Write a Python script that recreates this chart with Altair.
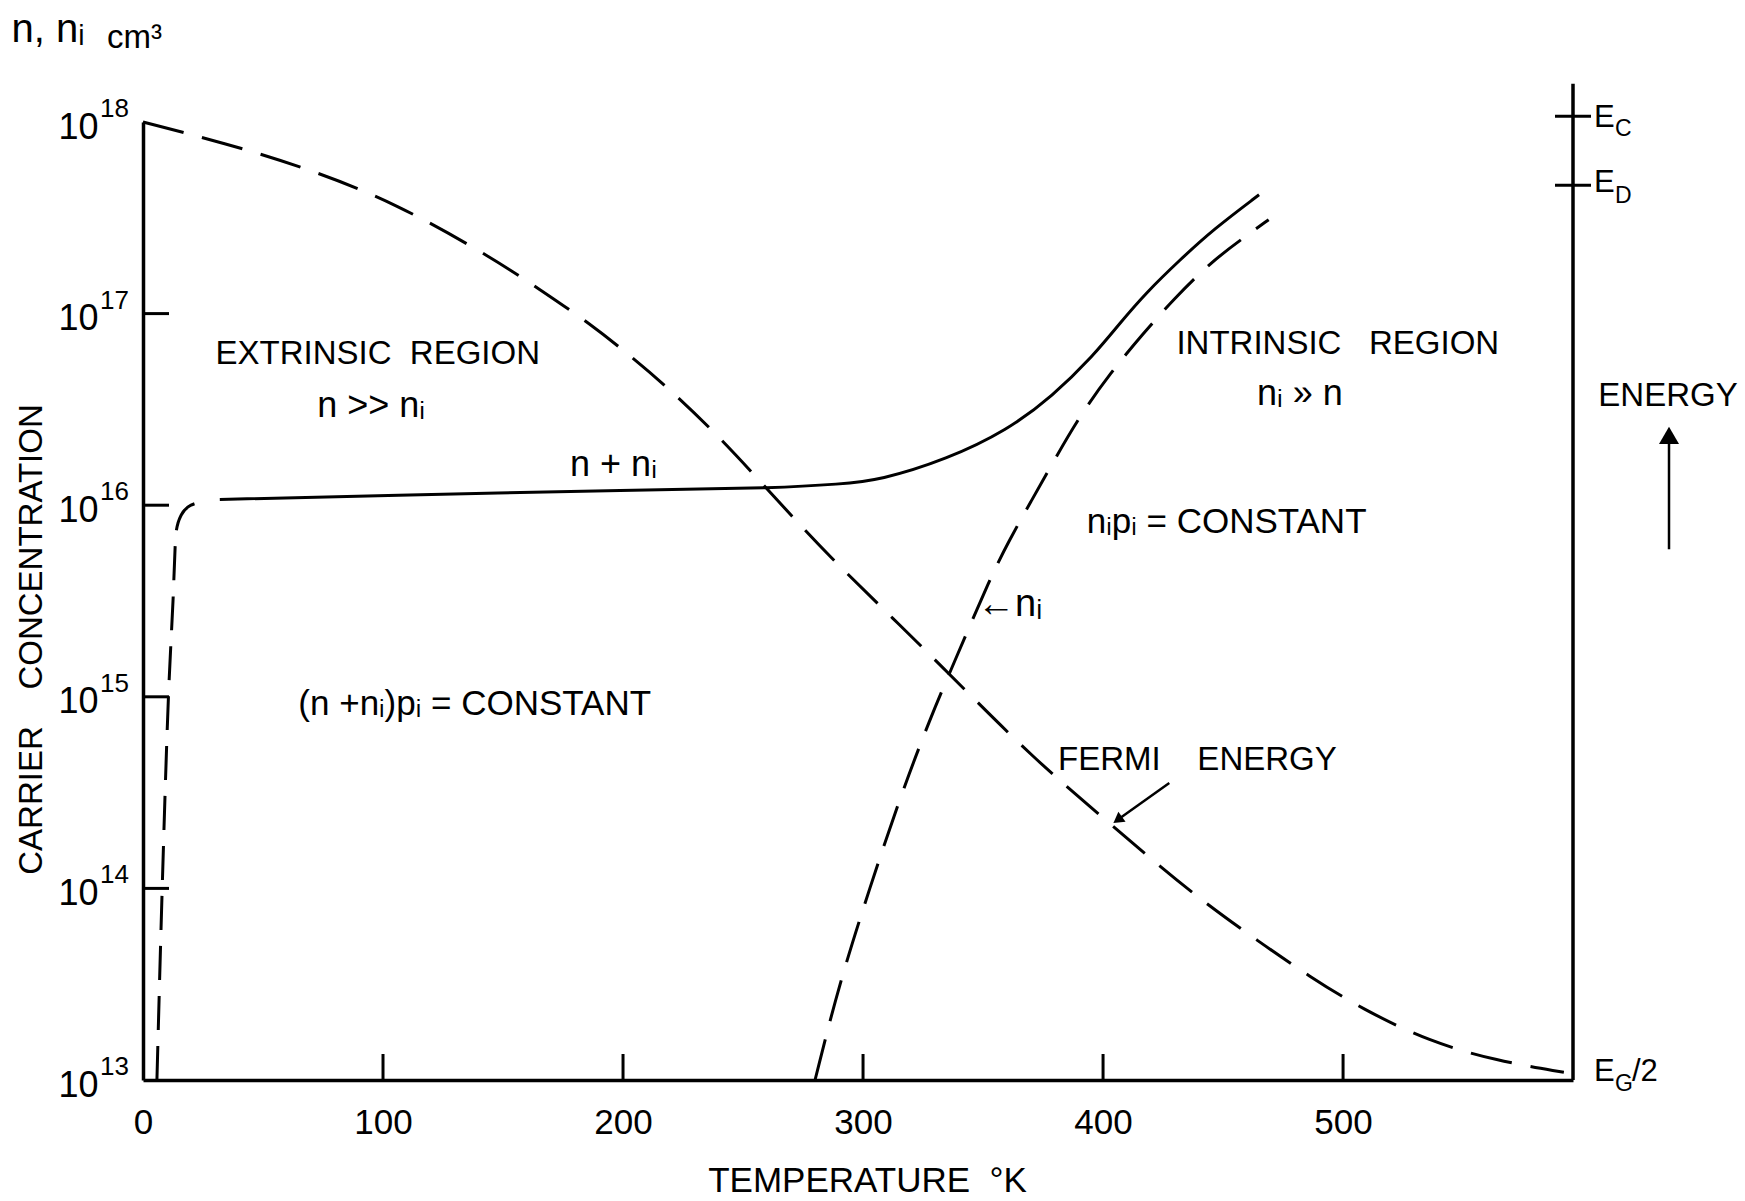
import altair as alt
import pandas as pd

FONT = "Liberation Sans"
INK = "black"

# ---------------- data ----------------
# x: temperature (K); curves given as log10 of carrier concentration (cm^-3)
T_RIGHT = 595.8          # temperature position of the energy axis

fermi_T = [0, 34, 68, 105, 147, 166, 186, 205, 219, 240, 264, 286, 315, 343, 371,
           399, 424, 443, 464, 486, 508, 536, 564, 592]
fermi_log = [18.0, 17.89, 17.76, 17.58, 17.28, 17.12, 16.95, 16.76, 16.61, 16.36, 16.03,
             15.73, 15.38, 15.03, 14.68, 14.38, 14.11, 13.92, 13.73, 13.54, 13.37, 13.20,
             13.10, 13.04]

nsum_T = [32, 100, 207, 265, 290, 307, 335, 360, 379, 396, 407, 418, 432, 446, 465]
nsum_log = [16.03, 16.05, 16.08, 16.09, 16.11, 16.13, 16.24, 16.39, 16.57, 16.78, 16.95,
            17.11, 17.28, 17.44, 17.62]

nlow_T = [5.8, 8.0, 10.6, 12.5, 13.8, 16.0, 20.0, 26.5]
nlow_log = [13.0, 14.0, 15.0, 15.5, 15.86, 15.95, 16.0, 16.02]

ni_T = [280, 290, 303, 315, 328, 338, 353, 361, 370, 379, 390, 403, 417, 429, 445, 459, 469]
ni_log = [13.0, 13.50, 14.01, 14.46, 14.89, 15.18, 15.62, 15.82, 16.02, 16.22, 16.46,
          16.69, 16.90, 17.07, 17.27, 17.40, 17.49]

# axes
x_tick_values = [0, 100, 200, 300, 400, 500]
x_inner_ticks = [100, 200, 300, 400, 500]
y_exponents = [13, 14, 15, 16, 17, 18]
y_inner_ticks = [14, 15, 16, 17]

# energy axis on the right
energy_axis_top_log = 18.20
energy_tick_logs = [18.03, 17.67]
energy_E_logs = [18.02, 17.68, 13.04]
energy_sub_text = ["C", "D", "G"]
energy_sub_logs = [17.963, 17.614, 12.977]
energy_half_logs = [13.04]

# annotations (centre positions)
cap_text = ["EXTRINSIC\u00a0\u00a0REGION", "INTRINSIC\u00a0\u00a0\u00a0REGION",
            "FERMI\u00a0\u00a0\u00a0\u00a0ENERGY", "ENERGY"]
cap_T = [97.8, 497.8, 439.3, 635.4]
cap_log = [16.79, 16.84, 14.67, 16.57]

const_text = ["(n +nᵢ)pᵢ = CONSTANT", "nᵢpᵢ = CONSTANT"]
const_T = [138.2, 451.5]
const_log = [14.96, 15.91]

low_text = ["n >> nᵢ", "n + nᵢ", "nᵢ » n"]
low_T = [95, 196, 482]
low_log = [16.52, 16.21, 16.58]

ni_label_text = ["←nᵢ"]
ni_label_T = [347.5]
ni_label_log = [15.48]

unit_text = ["n, nᵢ", "cm³"]
unit_T = [-54.8, -15.0]
unit_log = [18.48, 18.44]

# arrows
fermi_arrow_T = [427.6, 406.1]
fermi_arrow_log = [14.55, 14.358]
energy_arrow_T = 635.8
energy_arrow_log = [15.77, 16.364]

# ---------------- chart ----------------
xscale = alt.Scale(domain=[0, T_RIGHT], nice=False, zero=False)
yscale = alt.Scale(type="log", domain=[1e13, 1e18], nice=False)

xaxis = alt.Axis(values=x_tick_values, ticks=False, tickSize=0, grid=False,
                 domainColor=INK, domainWidth=3.5,
                 labelFont=FONT, labelFontSize=35, labelColor=INK, labelPadding=25,
                 labelFlush=False, labelOverlap=False,
                 title="TEMPERATURE\u00a0\u00a0°K", titleFont=FONT, titleFontSize=35,
                 titleFontWeight="normal", titleColor=INK, titleX=724, titleY=100,
                 titleAlign="center", titleBaseline="middle")
yaxis = alt.Axis(values=[10.0 ** e for e in y_exponents], labelExpr="'10'",
                 ticks=False, tickSize=0, grid=False,
                 domainColor=INK, domainWidth=3.5,
                 labelFont=FONT, labelFontSize=36, labelColor=INK, labelPadding=45,
                 labelOffset=5, labelFlush=False, labelOverlap=False,
                 title="CARRIER\u00a0\u00a0\u00a0\u00a0CONCENTRATION", titleFont=FONT,
                 titleFontSize=33, titleFontWeight="normal", titleColor=INK,
                 titleAngle=270, titleX=-112, titleY=517,
                 titleAlign="center", titleBaseline="middle")


def X(f="T"):
    return alt.X(f"{f}:Q", scale=xscale, axis=xaxis)


def Y(f="n"):
    return alt.Y(f"{f}:Q", scale=yscale, axis=yaxis)


def pts(Ts, logs, **extra):
    d = {"T": Ts, "n": [10.0 ** v for v in logs]}
    d.update(extra)
    return pd.DataFrame(d)


DASH = [42, 19]

layers = []

# curves
layers.append(alt.Chart(pts(fermi_T, fermi_log)).mark_line(
    color=INK, strokeWidth=3, strokeDash=DASH, interpolate="basis").encode(x=X(), y=Y()))
layers.append(alt.Chart(pts(nsum_T, nsum_log)).mark_line(
    color=INK, strokeWidth=3, interpolate="basis").encode(x=X(), y=Y()))
layers.append(alt.Chart(pts(nlow_T, nlow_log)).mark_line(
    color=INK, strokeWidth=3, strokeDash=[34, 16], interpolate="monotone").encode(x=X(), y=Y()))
layers.append(alt.Chart(pts(ni_T, ni_log)).mark_line(
    color=INK, strokeWidth=3, strokeDash=DASH, interpolate="basis").encode(x=X(), y=Y()))

# inward ticks
layers.append(alt.Chart(pts([0] * len(y_inner_ticks), y_inner_ticks)).mark_tick(
    orient="horizontal", size=26, thickness=3, xOffset=13, color=INK, opacity=1
).encode(x=X(), y=Y()))
layers.append(alt.Chart(pts(x_inner_ticks, [13] * len(x_inner_ticks))).mark_tick(
    orient="vertical", size=26, thickness=3, yOffset=-13, color=INK, opacity=1
).encode(x=X(), y=Y()))

# y-axis exponents
layers.append(alt.Chart(pts([0] * len(y_exponents), y_exponents,
                            label=[str(e) for e in y_exponents])).mark_text(
    font=FONT, fontSize=26, color=INK, align="left", baseline="middle", dx=-43, dy=-13
).encode(x=X(), y=Y(), text="label:N"))

# energy axis
energy_axis_df = pd.DataFrame({"T": [T_RIGHT], "n": [1e13], "n2": [10.0 ** energy_axis_top_log]})
layers.append(alt.Chart(energy_axis_df).mark_rule(color=INK, strokeWidth=3.5).encode(
    x=X(), y=Y(), y2=alt.Y2("n2:Q")))
layers.append(alt.Chart(pts([T_RIGHT] * len(energy_tick_logs), energy_tick_logs)).mark_tick(
    orient="horizontal", size=36, thickness=3, color=INK, opacity=1).encode(x=X(), y=Y()))
layers.append(alt.Chart(pts([T_RIGHT] * 3, energy_E_logs, label=["E", "E", "E"])).mark_text(
    font=FONT, fontSize=31, color=INK, align="left", baseline="middle", dx=21
).encode(x=X(), y=Y(), text="label:N"))
layers.append(alt.Chart(pts([T_RIGHT] * 3, energy_sub_logs, label=energy_sub_text)).mark_text(
    font=FONT, fontSize=23, color=INK, align="left", baseline="middle", dx=42
).encode(x=X(), y=Y(), text="label:N"))
layers.append(alt.Chart(pts([T_RIGHT], energy_half_logs, label=["/2"])).mark_text(
    font=FONT, fontSize=31, color=INK, align="left", baseline="middle", dx=59
).encode(x=X(), y=Y(), text="label:N"))

# annotations
layers.append(alt.Chart(pts(cap_T, cap_log, label=cap_text)).mark_text(
    font=FONT, fontSize=33, color=INK, align="center", baseline="middle"
).encode(x=X(), y=Y(), text="label:N"))
layers.append(alt.Chart(pts(const_T, const_log, label=const_text)).mark_text(
    font=FONT, fontSize=35, color=INK, align="center", baseline="middle"
).encode(x=X(), y=Y(), text="label:N"))
layers.append(alt.Chart(pts(low_T, low_log, label=low_text)).mark_text(
    font=FONT, fontSize=36, color=INK, align="center", baseline="middle"
).encode(x=X(), y=Y(), text="label:N"))
layers.append(alt.Chart(pts(ni_label_T, ni_label_log, label=ni_label_text)).mark_text(
    font=FONT, fontSize=38, color=INK, align="left", baseline="middle"
).encode(x=X(), y=Y(), text="label:N"))
layers.append(alt.Chart(pts(unit_T[:1], unit_log[:1], label=unit_text[:1])).mark_text(
    font=FONT, fontSize=40, color=INK, align="left", baseline="middle"
).encode(x=X(), y=Y(), text="label:N"))
layers.append(alt.Chart(pts(unit_T[1:], unit_log[1:], label=unit_text[1:])).mark_text(
    font=FONT, fontSize=33, color=INK, align="left", baseline="middle"
).encode(x=X(), y=Y(), text="label:N"))

# arrows
fa = pd.DataFrame({"T": [fermi_arrow_T[0]], "T2": [fermi_arrow_T[1]],
                   "n": [10.0 ** fermi_arrow_log[0]], "n2": [10.0 ** fermi_arrow_log[1]]})
layers.append(alt.Chart(fa).mark_rule(color=INK, strokeWidth=2.5).encode(
    x=X(), x2=alt.X2("T2:Q"), y=Y(), y2=alt.Y2("n2:Q")))
layers.append(alt.Chart(pts([fermi_arrow_T[1]], [fermi_arrow_log[1]])).mark_point(
    shape="triangle-up", filled=True, size=150, angle=234, color=INK, opacity=1
).encode(x=X(), y=Y()))
ea = pd.DataFrame({"T": [energy_arrow_T], "n": [10.0 ** energy_arrow_log[0]],
                   "n2": [10.0 ** energy_arrow_log[1]]})
layers.append(alt.Chart(ea).mark_rule(color=INK, strokeWidth=2.5).encode(
    x=X(), y=Y(), y2=alt.Y2("n2:Q")))
layers.append(alt.Chart(pts([energy_arrow_T], [energy_arrow_log[1]])).mark_point(
    shape="triangle-up", filled=True, size=400, angle=0, color=INK, opacity=1
).encode(x=X(), y=Y()))

chart = alt.layer(*layers).properties(
    width=1430, height=958,
    padding={"left": 143, "top": 122, "right": 172, "bottom": 121},
    autosize=alt.AutoSizeParams(type="none"),
    background="white",
).configure_view(stroke=None)

chart.save("out.html", embed_options={"renderer": "svg", "actions": False})
